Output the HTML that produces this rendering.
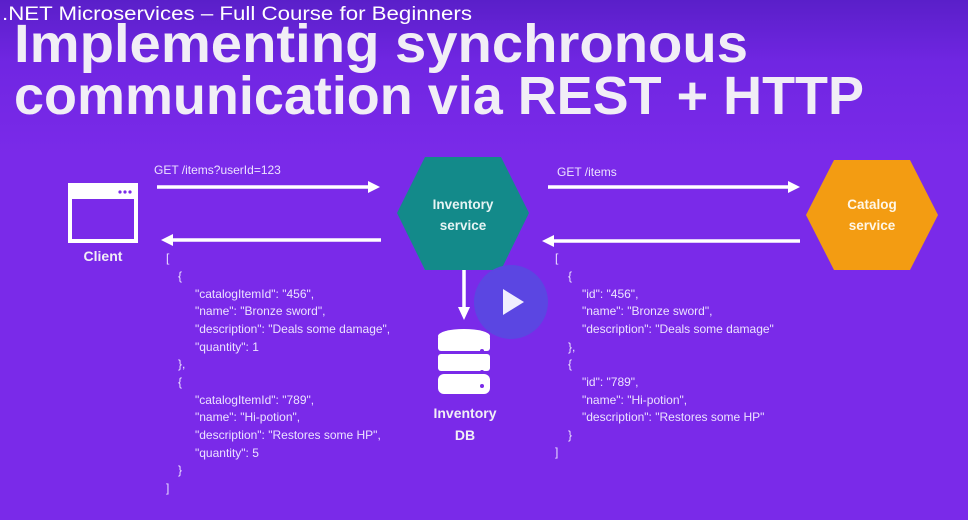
<!DOCTYPE html>
<html><head><meta charset="utf-8"><style>
html,body{margin:0;padding:0;width:968px;height:520px;overflow:hidden;background:#7a2ae9}
svg{display:block}
</style></head><body>
<svg width="968" height="520" viewBox="0 0 968 520" xmlns="http://www.w3.org/2000/svg">
<defs>
<linearGradient id="bg" x1="0" y1="0" x2="0" y2="1">
<stop offset="0" stop-color="#5a1fc9"/><stop offset="0.12" stop-color="#7026e2"/><stop offset="0.3" stop-color="#7a2ae9"/><stop offset="1" stop-color="#7a2ae9"/>
</linearGradient>
<linearGradient id="tg" x1="0" y1="0" x2="0" y2="1">
<stop offset="0" stop-color="#ffffff"/><stop offset="1" stop-color="#d9d4e4"/>
</linearGradient>
</defs>
<rect width="968" height="520" fill="url(#bg)"/>
<g font-family="Liberation Sans, sans-serif" font-weight="bold" fill="#f1eef6" font-size="54">
<text x="14" y="62" textLength="734" lengthAdjust="spacingAndGlyphs">Implementing synchronous</text>
<text x="14" y="114" textLength="850" lengthAdjust="spacingAndGlyphs">communication via REST + HTTP</text>
</g>
<text x="2" y="20" font-family="Liberation Sans, sans-serif" font-size="19" fill="#ffffff" textLength="470" lengthAdjust="spacingAndGlyphs">.NET Microservices – Full Course for Beginners</text>

<!-- client -->
<rect x="70" y="185" width="66" height="56" fill="none" stroke="#fff" stroke-width="4"/>
<rect x="70" y="185" width="66" height="14" fill="#fff"/>
<circle cx="120" cy="192" r="1.6" fill="#7a2ae9"/><circle cx="125" cy="192" r="1.6" fill="#7a2ae9"/><circle cx="130" cy="192" r="1.6" fill="#7a2ae9"/>
<text x="103" y="261" text-anchor="middle" font-family="Liberation Sans, sans-serif" font-weight="bold" font-size="14" fill="#f1eef6">Client</text>

<!-- arrows -->
<g stroke="#fff" stroke-width="3.5" fill="#fff">
<line x1="157" y1="187" x2="370" y2="187"/><polygon points="380,187 368,181 368,193" stroke="none"/>
<line x1="172" y1="240" x2="381" y2="240"/><polygon points="161,240 173,234 173,246" stroke="none"/>
<line x1="548" y1="187" x2="790" y2="187"/><polygon points="800,187 788,181 788,193" stroke="none"/>
<line x1="553" y1="241" x2="800" y2="241"/><polygon points="542,241 554,235 554,247" stroke="none"/>
<line x1="464" y1="270" x2="464" y2="308"/><polygon points="464,320 458,307 470,307" stroke="none"/>
</g>
<g font-family="Liberation Sans, sans-serif" font-size="12" fill="#ece2ff">
<text x="154" y="174">GET /items?userId=123</text>
<text x="557" y="176">GET /items</text>
</g>

<!-- hexagons -->
<polygon points="397,213 425,157 501,157 529,213 501,270 425,270" fill="#138a8a"/>
<text font-family="Liberation Sans, sans-serif" font-weight="bold" font-size="13.5" fill="#e6f4f4" text-anchor="middle"><tspan x="463" y="209">Inventory</tspan><tspan x="463" y="230">service</tspan></text>
<polygon points="806,215 834,160 910,160 938,215 910,270 834,270" fill="#f39c12"/>
<text font-family="Liberation Sans, sans-serif" font-weight="bold" font-size="13.5" fill="#fff7e8" text-anchor="middle"><tspan x="872" y="209">Catalog</tspan><tspan x="872" y="230">service</tspan></text>

<!-- DB -->
<g fill="#fff">
<rect x="438" y="335" width="52" height="16" rx="3"/>
<ellipse cx="464" cy="336" rx="26" ry="7"/>
<rect x="438" y="354" width="52" height="17" rx="3"/>
<rect x="438" y="374" width="52" height="20" rx="6"/>
</g>
<g fill="#7a2ae9"><circle cx="482" cy="351" r="2"/><circle cx="482" cy="372" r="2"/><circle cx="482" cy="386" r="2"/></g>
<text font-family="Liberation Sans, sans-serif" font-weight="bold" font-size="14" fill="#f1eef6" text-anchor="middle"><tspan x="465" y="418">Inventory</tspan><tspan x="465" y="440">DB</tspan></text>

<!-- play -->
<circle cx="511" cy="302" r="37" fill="#5a48e2" opacity="0.95"/>
<polygon points="503,289 503,315 524,302" fill="#f0eefe"/>

<!-- JSON left -->
<g font-family="Liberation Sans, sans-serif" font-size="12" fill="#ece2ff">
<text x="166" y="262">[</text>
<text x="178" y="280">{</text>
<text x="195" y="298">"catalogItemId": "456",</text>
<text x="195" y="315">"name": "Bronze sword",</text>
<text x="195" y="333">"description": "Deals some damage",</text>
<text x="195" y="351">"quantity": 1</text>
<text x="178" y="368">},</text>
<text x="178" y="386">{</text>
<text x="195" y="404">"catalogItemId": "789",</text>
<text x="195" y="421">"name": "Hi-potion",</text>
<text x="195" y="439">"description": "Restores some HP",</text>
<text x="195" y="457">"quantity": 5</text>
<text x="178" y="474">}</text>
<text x="166" y="492">]</text>
</g>
<!-- JSON right -->
<g font-family="Liberation Sans, sans-serif" font-size="12" fill="#ece2ff">
<text x="555" y="262">[</text>
<text x="568" y="280">{</text>
<text x="582" y="298">"id": "456",</text>
<text x="582" y="315">"name": "Bronze sword",</text>
<text x="582" y="333">"description": "Deals some damage"</text>
<text x="568" y="351">},</text>
<text x="568" y="368">{</text>
<text x="582" y="386">"id": "789",</text>
<text x="582" y="404">"name": "Hi-potion",</text>
<text x="582" y="421">"description": "Restores some HP"</text>
<text x="568" y="439">}</text>
<text x="555" y="456">]</text>
</g>
</svg>
</body></html>
